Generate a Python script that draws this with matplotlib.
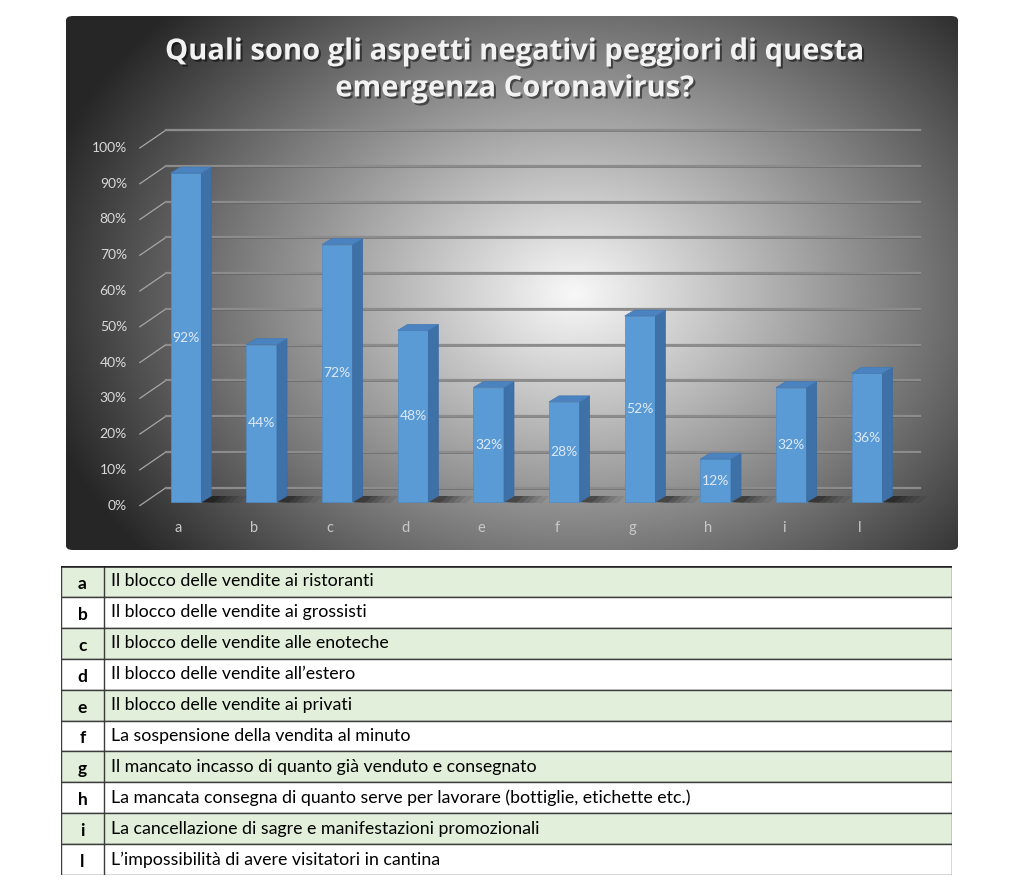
import numpy as np
import matplotlib
matplotlib.use("Agg")
import matplotlib.pyplot as plt
from matplotlib.patches import Polygon, Rectangle, FancyBboxPatch
import matplotlib.patheffects as pe

plt.rcParams['font.family'] = ['Lato', 'DejaVu Sans']

# dati
categorie = ['a', 'b', 'c', 'd', 'e', 'f', 'g', 'h', 'i', 'l']
valori = [0.92, 0.44, 0.72, 0.48, 0.32, 0.28, 0.52, 0.12, 0.32, 0.36]
etichette_y = ['0%', '10%', '20%', '30%', '40%', '50%', '60%', '70%', '80%', '90%', '100%']
descrizioni = [
    "Il blocco delle vendite ai ristoranti",
    "Il blocco delle vendite ai grossisti",
    "Il blocco delle vendite alle enoteche",
    "Il blocco delle vendite all\u2019estero",
    "Il blocco delle vendite ai privati",
    "La sospensione della vendita al minuto",
    "Il mancato incasso di quanto gi\u00e0 venduto e consegnato",
    "La mancata consegna di quanto serve per lavorare (bottiglie, etichette etc.)",
    "La cancellazione di sagre e manifestazioni promozionali",
    "L\u2019impossibilit\u00e0 di avere visitatori in cantina",
]
titolo = "Quali sono gli aspetti negativi peggiori di questa\nemergenza Coronavirus?"

W, H = 1024, 889
fig = plt.figure(figsize=(W / 100, H / 100), dpi=100)
fig.patch.set_facecolor('white')


def box(x0, y0, x1, y1):
    # pixel -> frazioni della figura
    return [x0 / W, 1 - y1 / H, (x1 - x0) / W, (y1 - y0) / H]


# ------------------------------
# Grafico (pannello scuro)
# ------------------------------
ax = fig.add_axes(box(66, 16, 958, 550))
px_cat = 75.67   # pixel per categoria
px_val = 357.6   # pixel per 100%
x_lim = ((66 - 186) / px_cat, (958 - 186) / px_cat)
y_lim = ((502 - 550) / px_val, (502 - 16) / px_val)
ax.set_xlim(*x_lim)
ax.set_ylim(*y_lim)
ax.axis('off')

# sfondo con gradiente radiale
gx, gy = np.meshgrid(np.linspace(0, 1, 400), np.linspace(0, 1, 300))
r = np.sqrt(((gx - 0.57) / 0.62) ** 2 + ((gy - 0.52) / 0.78) ** 2)
r = np.clip(r, 0, 1)
grigio = 0.97 - 0.82 * r ** 1.05
img = np.dstack([grigio, grigio, grigio])
im = ax.imshow(img, extent=(*x_lim, *y_lim), aspect='auto', origin='upper', zorder=0)
cornice = FancyBboxPatch((0, 0), 1, 1, boxstyle='round,pad=0,rounding_size=0.008',
                         transform=ax.transAxes, facecolor='none', edgecolor='none')
ax.add_patch(cornice)
im.set_clip_path(cornice)

# griglia (parete di fondo + diagonale)
dx_w, dy_w = 0.345, 0.05
x_front = -0.61
x_fine = (920 - 186) / px_cat
for k in range(len(etichette_y)):
    v = k / 10
    yb = v - 0.01
    ax.plot([x_front, x_front + dx_w], [yb, yb + dy_w], color='#a6a6a6', lw=0.9, zorder=1)
    ax.plot([x_front + dx_w, x_fine], [yb + dy_w, yb + dy_w], color='#8c8c8c', lw=1.6, zorder=1)
    ax.plot([x_front + dx_w, x_fine], [yb + dy_w - 0.003, yb + dy_w - 0.003], color='#5a5a5a',
            lw=0.6, alpha=0.6, zorder=1)
    ax.text((127 - 186) / px_cat, yb, etichette_y[k], ha='right', va='center',
            fontsize=10, color='#d9d9d9', zorder=5)

# barre 3D
w = 0.405
ddx, ddy = 0.132, 0.0168
xs = np.arange(len(categorie))
for x, v in zip(xs, valori):
    for a, lung in [(0.08, 0.6), (0.1, 0.5), (0.12, 0.42), (0.15, 0.34), (0.18, 0.26)]:
        ombra = Polygon([(x + w / 2, 0), (x + w / 2 + ddx, ddy), (x + w / 2 + lung, ddy),
                         (x + w / 2 + lung - 0.1, -0.003)], closed=True, facecolor='black',
                        edgecolor='none', alpha=a, zorder=2)
        ax.add_patch(ombra)
ax.bar(xs, valori, width=w, color='#5b9bd5', edgecolor='#4f8cc6', linewidth=0.5, zorder=3)
for x, v in zip(xs, valori):
    lato = Polygon([(x + w / 2, 0), (x + w / 2 + ddx, ddy), (x + w / 2 + ddx, v + ddy),
                    (x + w / 2, v)], closed=True, facecolor='#3f71a9', edgecolor='#3a6a9f',
                   lw=0.5, zorder=3)
    cima = Polygon([(x - w / 2, v), (x + w / 2, v), (x + w / 2 + ddx, v + ddy),
                    (x - w / 2 + ddx, v + ddy)], closed=True, facecolor='#4b83c0',
                   edgecolor='#4479b3', lw=0.5, zorder=3)
    ax.add_patch(lato)
    ax.add_patch(cima)
    ax.text(x, v / 2, f"{int(round(v * 100))}%", ha='center', va='center',
            fontsize=10, color='#dde9f6', zorder=6)

# etichette categorie
for x, c in zip(xs, categorie):
    ax.text(x - 0.1, -0.073, c, ha='center', va='center', fontsize=10.5, color='#c8c8c8', zorder=5)

# titolo
ax.text(0.503, 0.898, titolo, transform=ax.transAxes, ha='center', va='center',
        fontsize=21, fontweight='bold', color='#f2f2f2', linespacing=1.36,
        family=['Open Sans', 'DejaVu Sans'],
        path_effects=[pe.withSimplePatchShadow(offset=(1.5, -1.5), shadow_rgbFace='black', alpha=0.5)],
        zorder=6)

# ------------------------------
# Legenda in tabella
# ------------------------------
tx = fig.add_axes(box(61, 566, 952, 875))
tx.set_xlim(0, 891)
tx.set_ylim(len(categorie), 0)
tx.axis('off')
col1 = 43
for i, (c, d) in enumerate(zip(categorie, descrizioni)):
    colore = '#e2efda' if i % 2 == 0 else 'white'
    tx.add_patch(Rectangle((0, i), 891, 1, facecolor=colore, edgecolor='#3c3c3c', lw=1.0))
    tx.plot([col1, col1], [i, i + 1], color='#3c3c3c', lw=1.0)
    tx.text(col1 / 2, i + 0.58, c, ha='center', va='center', fontsize=12.5,
            fontweight='bold', color='black')
    tx.text(50, i + 0.5, d, ha='left', va='center', fontsize=12.8, color='black')
tx.plot([0, 891], [0, 0], color='#222222', lw=1.8)

fig.savefig('out.png', dpi=100)
